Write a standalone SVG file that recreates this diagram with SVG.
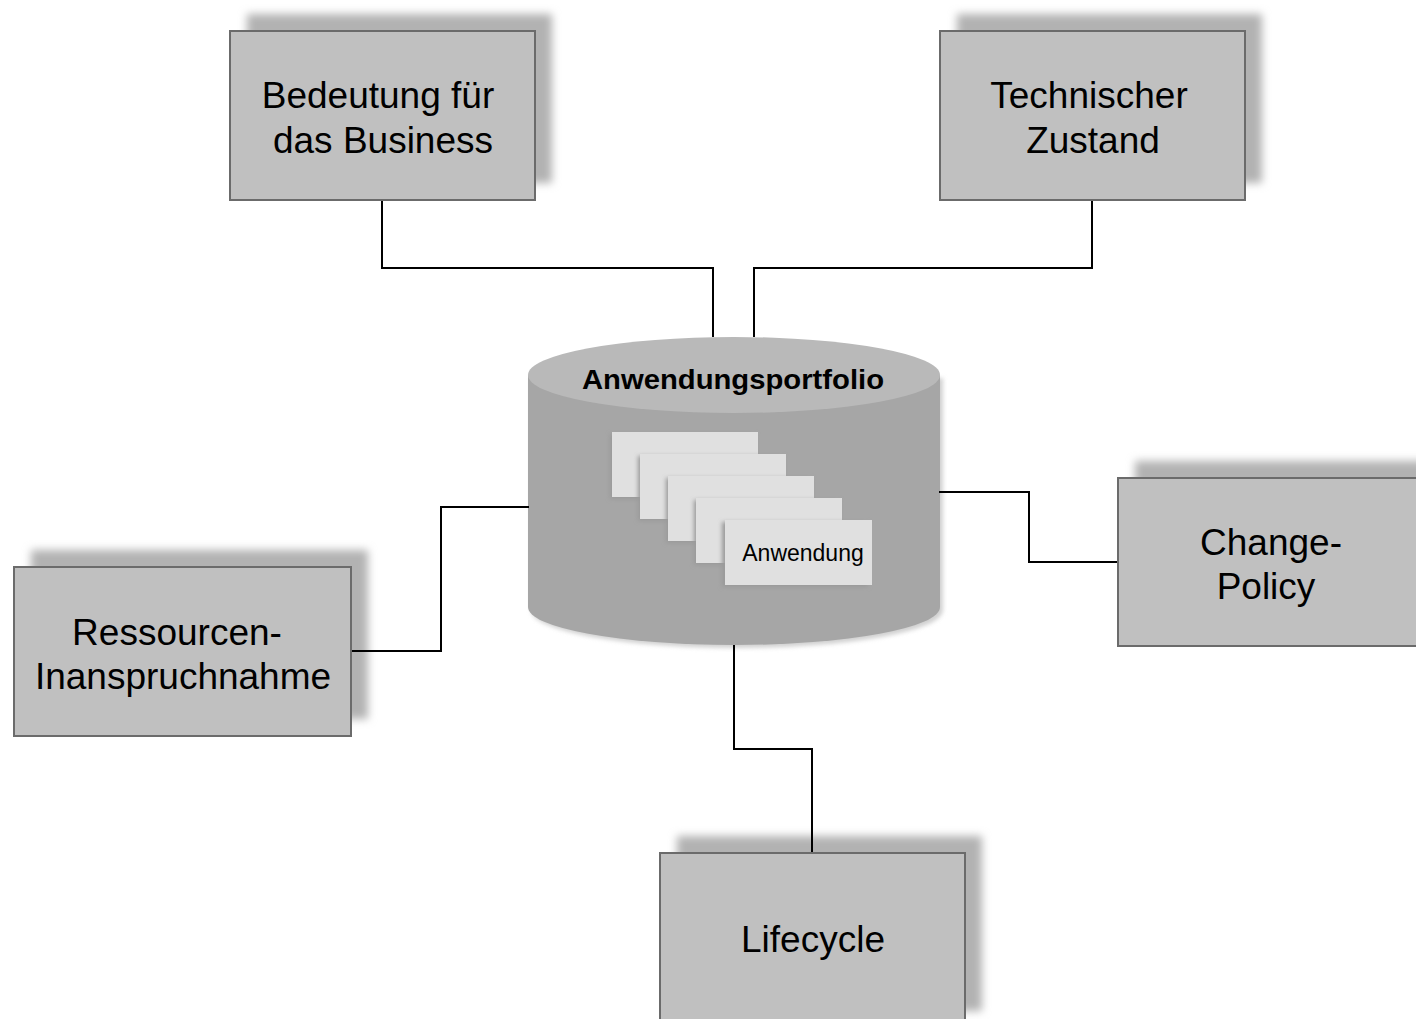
<svg xmlns="http://www.w3.org/2000/svg" width="1416" height="1019" viewBox="0 0 1416 1019">
<defs>
<filter id="blur" x="-10%" y="-10%" width="120%" height="120%"><feGaussianBlur stdDeviation="4"/></filter>
<filter id="blur2" x="-10%" y="-10%" width="120%" height="120%"><feGaussianBlur stdDeviation="2"/></filter>
</defs>
<style>
.shadow{fill:#b2b2b2;filter:url(#blur)}
.box{fill:#c0c0c0;stroke:#6b6b6b;stroke-width:2}
.lbl{font-family:"Liberation Sans",Arial,sans-serif;font-size:37px;fill:#000;text-anchor:middle}
.conn{fill:none;stroke:#000;stroke-width:2}
.card{fill:#e0e0e0}
.cardsh{fill:#9a9a9a;filter:url(#blur2)}
</style>
<rect width="1416" height="1019" fill="#fff"/>
<g id="node-bedeutung">
<rect class="shadow" x="247" y="14" width="305" height="169"/>
<rect class="box" x="230" y="31" width="305" height="169"/>
<text class="lbl" x="378" y="108">Bedeutung für</text>
<text class="lbl" x="383" y="153">das Business</text>
</g>
<g id="node-technisch">
<rect class="shadow" x="957" y="14" width="305" height="169"/>
<rect class="box" x="940" y="31" width="305" height="169"/>
<text class="lbl" x="1089" y="108">Technischer</text>
<text class="lbl" x="1093" y="153">Zustand</text>
</g>
<g id="node-change">
<rect class="shadow" x="1135" y="461" width="305" height="168"/>
<rect class="box" x="1118" y="478" width="305" height="168"/>
<text class="lbl" x="1271" y="555">Change-</text>
<text class="lbl" x="1266" y="599">Policy</text>
</g>
<g id="node-ressourcen">
<rect class="shadow" x="31" y="550" width="337" height="169"/>
<rect class="box" x="14" y="567" width="337" height="169"/>
<text class="lbl" x="177" y="645">Ressourcen-</text>
<text class="lbl" x="183" y="689">Inanspruchnahme</text>
</g>
<g id="node-lifecycle">
<rect class="shadow" x="677" y="836" width="305" height="175"/>
<rect class="box" x="660" y="853" width="305" height="175"/>
<text class="lbl" x="813" y="952">Lifecycle</text>
</g>
<g id="node-portfolio">
<path d="M531,378 L531,610 A206,38 0 0 0 943,610 L943,378 Z" fill="#d0d0d0" filter="url(#blur2)"/>
<path d="M528,375 L528,607 A206,38 0 0 0 940,607 L940,375 Z" fill="#a6a6a6"/>
<ellipse cx="734" cy="375" rx="206" ry="38" fill="#b9b9b9"/>
<text x="733" y="389" font-family="Liberation Sans,Arial,sans-serif" font-size="28" font-weight="bold" text-anchor="middle" textLength="302" lengthAdjust="spacingAndGlyphs">Anwendungsportfolio</text>
<g id="cards">
<rect class="cardsh" x="610" y="434" width="146" height="65"/>
<rect class="card" x="612" y="432" width="146" height="65"/>
<rect class="cardsh" x="638" y="456" width="146" height="65"/>
<rect class="card" x="640" y="454" width="146" height="65"/>
<rect class="cardsh" x="666" y="478" width="146" height="65"/>
<rect class="card" x="668" y="476" width="146" height="65"/>
<rect class="cardsh" x="694" y="500" width="146" height="65"/>
<rect class="card" x="696" y="498" width="146" height="65"/>
<rect class="cardsh" x="722" y="522" width="146" height="65"/>
<rect class="card" x="725" y="520" width="147" height="65"/>
<text x="803" y="561" font-family="Liberation Sans,Arial,sans-serif" font-size="23" text-anchor="middle">Anwendung</text>
</g>
</g>
<g id="connectors">
<polyline class="conn" points="382,201 382,268 713,268 713,337"/>
<polyline class="conn" points="1092,201 1092,268 754,268 754,337"/>
<polyline class="conn" points="529,507 441,507 441,651 352,651"/>
<polyline class="conn" points="939,492 1029,492 1029,562 1117,562"/>
<polyline class="conn" points="734,645 734,749 812,749 812,852"/>
</g>
</svg>
